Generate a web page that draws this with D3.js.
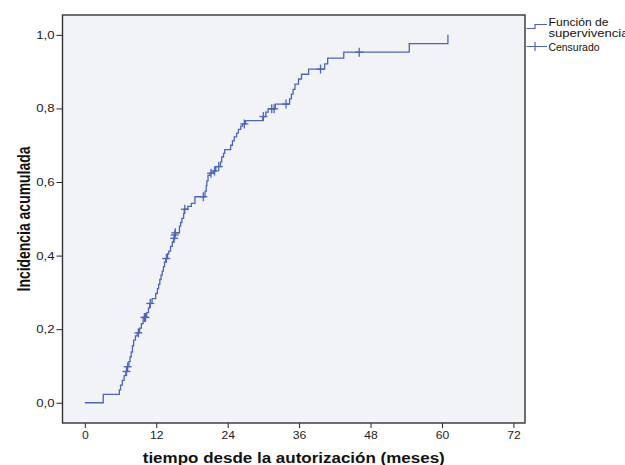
<!DOCTYPE html>
<html><head><meta charset="utf-8">
<script src="https://cdn.jsdelivr.net/npm/d3@7"></script>
<style>
html,body{margin:0;padding:0;background:#fff;}
svg{display:block;}
text{font-family:"Liberation Sans",Arial,sans-serif;}
</style></head>
<body>
<svg id="chart" width="625" height="465"></svg>
<script>
// ---- data ----
const eventTimes = [0, 3.1, 5.8, 6.0, 6.3, 6.6, 6.9, 7.1, 7.4, 7.6,
  7.8, 8.0, 8.2, 8.5, 8.8, 9.2, 9.5, 9.8, 10.4, 10.7,
  10.9, 11.3, 11.9, 12.2, 12.4, 12.6, 12.8, 13.0, 13.2, 13.4,
  13.6, 13.9, 14.1, 14.4, 14.7, 14.9, 15.05, 15.15, 15.9, 16.1,
  16.3, 16.6, 16.7, 17.3, 17.9, 18.5, 20.2, 20.4, 20.5, 20.7,
  21.0, 21.6, 22.0, 22.8, 23.0, 23.3, 23.5, 24.5, 24.8, 25.1,
  25.5, 25.8, 26.2, 26.5, 27.0, 29.9, 30.4, 30.8, 32.0, 34.4,
  34.7, 35.0, 35.3, 35.9, 36.4, 37.6, 40.3, 40.8, 43.5, 54.5,
  61.0];
const incidence = [0, 0.023, 0.035, 0.048, 0.061, 0.074, 0.085, 0.098, 0.112, 0.125,
  0.138, 0.155, 0.17, 0.182, 0.19, 0.203, 0.215, 0.232, 0.245, 0.258,
  0.27, 0.283, 0.297, 0.31, 0.322, 0.335, 0.347, 0.358, 0.37, 0.383,
  0.392, 0.405, 0.412, 0.425, 0.437, 0.447, 0.456, 0.462, 0.48, 0.49,
  0.501, 0.514, 0.526, 0.534, 0.542, 0.56, 0.575, 0.59, 0.603, 0.618,
  0.624, 0.63, 0.642, 0.655, 0.668, 0.678, 0.688, 0.7, 0.712, 0.723,
  0.733, 0.743, 0.752, 0.758, 0.767, 0.778, 0.79, 0.799, 0.812, 0.826,
  0.839, 0.852, 0.866, 0.88, 0.893, 0.907, 0.921, 0.937, 0.953, 0.976,
  1.0];
const censorTimes = [7.0, 7.2, 9.0, 10.0, 10.2, 11.0, 13.7, 15.0, 15.1, 15.2,
  16.8, 19.9, 21.2, 21.8, 22.5, 26.8, 30.0, 31.4, 31.8, 33.8, 39.6, 46.1];
const censorValues = [0.085, 0.098, 0.19, 0.232, 0.232, 0.27, 0.392, 0.447, 0.456, 0.462,
  0.526, 0.56, 0.624, 0.63, 0.642, 0.758, 0.778, 0.799, 0.799, 0.812, 0.907, 0.953];
const xTicks = [0, 12, 24, 36, 48, 60, 72];
const yTicks = [0, 0.2, 0.4, 0.6, 0.8, 1.0];
const xTitle = "tiempo desde la autorización (meses)";
const yTitle = "Incidencia acumulada";
const legendLabels = [["Función de", "supervivencia"], ["Censurado"]];

// ---- layout ----
const L = 62.5, R = 525, T = 15, B = 423;
const lineColor = "#4c65ba";
const stretch = 1.2;

const svg = d3.select("#chart");
const x = d3.scaleLinear().domain([-3.75, 73.95]).range([L, R]);
const y = d3.scaleLinear().domain([-0.055, 1.054]).range([B, T]);

svg.append("rect").attr("x", L).attr("y", T).attr("width", R - L).attr("height", B - T)
  .attr("fill", "#f2f3f6");

function stretchText(sel, f) {
  sel.each(function () {
    const w = this.getComputedTextLength();
    d3.select(this).attr("textLength", w * f).attr("lengthAdjust", "spacingAndGlyphs");
  });
}

// axes
const fmt = d => d3.format(".1f")(d).replace(".", ",");
const yAxis = svg.append("g").attr("transform", `translate(${L},0)`)
  .call(d3.axisLeft(y).tickValues(yTicks).tickFormat(fmt).tickSize(6).tickSizeOuter(0).tickPadding(2));
const xAxis = svg.append("g").attr("transform", `translate(0,${B})`)
  .call(d3.axisBottom(x).tickValues(xTicks).tickFormat(d3.format("d")).tickSize(5).tickSizeOuter(0).tickPadding(3));
[yAxis, xAxis].forEach(a => {
  a.select(".domain").remove();
  a.selectAll(".tick line").attr("stroke", "#222");
  a.selectAll(".tick text").attr("font-family", "'Liberation Sans', Arial, sans-serif")
    .attr("font-size", 11).attr("fill", "#222");
});
stretchText(yAxis.selectAll(".tick text"), stretch);
stretchText(xAxis.selectAll(".tick text"), 1.1);

// step curve
const pts = eventTimes.map((t, i) => [t, incidence[i]]);
const line = d3.line().x(d => x(d[0])).y(d => y(d[1])).curve(d3.curveStepAfter);
svg.append("path").attr("d", line(pts)).attr("fill", "none")
  .attr("stroke", lineColor).attr("stroke-width", 1.3);

// censor marks
const cens = censorTimes.map((t, i) => [t, censorValues[i]]);
const cg = svg.append("g").attr("stroke", lineColor).attr("stroke-width", 1.3);
cg.selectAll("line.v").data(cens).join("line").attr("class", "v")
  .attr("x1", d => x(d[0])).attr("x2", d => x(d[0]))
  .attr("y1", d => y(d[1]) - 4.5).attr("y2", d => y(d[1]) + 4.5);
cg.selectAll("line.h").data(cens).join("line").attr("class", "h")
  .attr("x1", d => x(d[0]) - 4).attr("x2", d => x(d[0]) + 4)
  .attr("y1", d => y(d[1])).attr("y2", d => y(d[1]));

// frame
svg.append("rect").attr("x", L).attr("y", T).attr("width", R - L).attr("height", B - T)
  .attr("fill", "none").attr("stroke", "#333").attr("stroke-width", 1.4);

// titles
svg.append("text").attr("x", (L + R) / 2).attr("y", 463).attr("text-anchor", "middle")
  .attr("font-size", 14).attr("font-weight", "bold").attr("fill", "#111")
  .attr("textLength", 302).attr("lengthAdjust", "spacingAndGlyphs").text(xTitle);
svg.append("text")
  .attr("transform", `translate(30,219) scale(1.25,1) rotate(-90)`)
  .attr("text-anchor", "middle").attr("font-size", 14).attr("font-weight", "bold").attr("fill", "#111")
  .attr("textLength", 145).attr("lengthAdjust", "spacingAndGlyphs").text(yTitle);

// legend
const lg = svg.append("g");
lg.append("path").attr("d", "M526.5,28.5H535V24.5H547").attr("fill", "none")
  .attr("stroke", lineColor).attr("stroke-width", 1.2);
lg.append("path").attr("d", "M526.5,46.5H547M535,42V51").attr("fill", "none")
  .attr("stroke", lineColor).attr("stroke-width", 1.2);
const lt = lg.append("g").attr("font-size", 10.5).attr("fill", "#111");
lt.append("text").attr("x", 548.5).attr("y", 26).attr("textLength", 60).attr("lengthAdjust", "spacingAndGlyphs").text(legendLabels[0][0]);
lt.append("text").attr("x", 548.5).attr("y", 36.5).attr("textLength", 80).attr("lengthAdjust", "spacingAndGlyphs").text(legendLabels[0][1]);
lt.append("text").attr("x", 548.5).attr("y", 51).attr("textLength", 51).attr("lengthAdjust", "spacingAndGlyphs").text(legendLabels[1][0]);
</script>
</body></html>
